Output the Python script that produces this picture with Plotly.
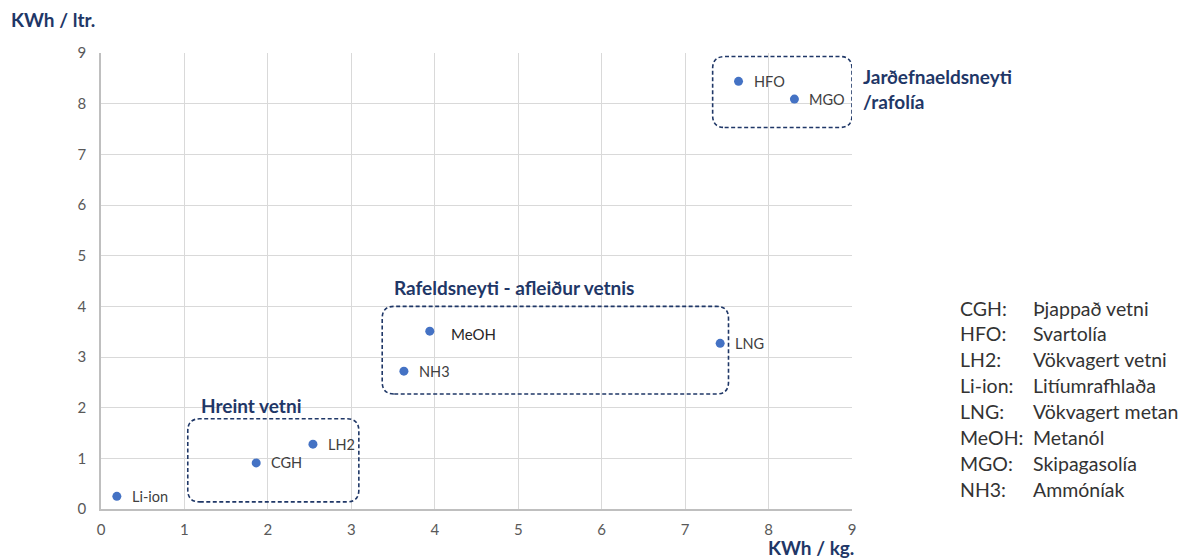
import plotly.graph_objects as go

# Fuel energy density: gravimetric (KWh/kg) vs volumetric (KWh/ltr)
fuels = ["Li-ion", "CGH", "LH2", "NH3", "MeOH", "LNG", "HFO", "MGO"]
kwh_per_kg = [0.19, 1.86, 2.54, 3.63, 3.94, 7.42, 7.64, 8.31]
kwh_per_ltr = [0.25, 0.91, 1.28, 2.72, 3.51, 3.27, 8.44, 8.09]

# Fuel groups: label and enclosing box (x0, x1, y0, y1) in data units
groups = ["Hreint vetni", "Rafeldsneyti - afleiður vetnis", "Jarðefnaeldsneyti<br>/rafolía"]
group_boxes = [(1.04, 3.09, 0.14, 1.78), (3.37, 7.52, 2.27, 4.00), (7.33, 9.00, 7.53, 8.93)]

# Abbreviation glossary
gloss_codes = ["CGH:", "HFO:", "LH2:", "Li-ion:", "LNG:", "MeOH:", "MGO:", "NH3:"]
gloss_names = ["Þjappað vetni", "Svartolía", "Vökvagert vetni", "Litíumrafhlaða",
               "Vökvagert metan", "Metanól", "Skipagasolía", "Ammóníak"]

W, H = 1184, 558
ML, MR, MT, MB = 101, 332, 53, 49
PW, PH = W - ML - MR, H - MT - MB
NAVY = "#1f3767"
FONT = "Lato, Carlito, Calibri, sans-serif"


def px_to_paper(px, py):
    return (px - ML) / PW, (H - MB - py) / PH


def rounded_box(x0, x1, y0, y1, r_px=12):
    rx = r_px * 9 / PW
    ry = r_px * 9 / PH
    return (f"M {x0 + rx},{y0} L {x1 - rx},{y0} Q {x1},{y0} {x1},{y0 + ry} "
            f"L {x1},{y1 - ry} Q {x1},{y1} {x1 - rx},{y1} "
            f"L {x0 + rx},{y1} Q {x0},{y1} {x0},{y1 - ry} "
            f"L {x0},{y0 + ry} Q {x0},{y0} {x0 + rx},{y0} Z")


fig = go.Figure()
fig.add_trace(go.Scatter(
    x=kwh_per_kg, y=kwh_per_ltr, mode="markers",
    marker=dict(color="#4472c4", size=9),
    hoverinfo="text", text=fuels, showlegend=False,
))

annotations = []
for name, xv, yv in zip(fuels, kwh_per_kg, kwh_per_ltr):
    big = name == "MeOH"
    annotations.append(dict(
        x=xv, y=yv, text=name, showarrow=False, xanchor="left",
        xshift=19 if big else 13, yshift=-3 if big else 0,
        font=dict(family=FONT, size=15 if big else 14.5,
                  color="#262626" if big else "#404040"),
    ))

shapes = []
for box in group_boxes:
    shapes.append(dict(type="path", xref="x", yref="y", path=rounded_box(*box),
                       line=dict(color=NAVY, width=1.6, dash="4px,2.5px"),
                       fillcolor="rgba(0,0,0,0)"))

# group titles
title_font = dict(family=FONT, size=19, color=NAVY)
annotations.append(dict(x=1.17, y=2.05, text="<b>" + groups[0] + "</b>", xanchor="left",
                        yanchor="middle", showarrow=False, font=title_font))
annotations.append(dict(x=3.49, y=4.38, text="<b>" + groups[1] + "</b>", xanchor="left",
                        yanchor="middle", showarrow=False, font=title_font))
gx, gy = px_to_paper(861, 89)
annotations.append(dict(x=gx, y=gy, xref="paper", yref="paper",
                        text="<b>" + groups[2].replace("<br>", "</b><br><b>") + "</b>",
                        xanchor="left", yanchor="middle", align="left", showarrow=False,
                        font=title_font))

# axis titles
tx, ty = px_to_paper(9, 19)
annotations.append(dict(x=tx, y=ty, xref="paper", yref="paper", text="<b>KWh / ltr.</b>",
                        xanchor="left", yanchor="middle", showarrow=False,
                        font=dict(family=FONT, size=19, color=NAVY)))
tx, ty = px_to_paper(856, 547)
annotations.append(dict(x=tx, y=ty, xref="paper", yref="paper", text="<b>KWh / kg.</b>",
                        xanchor="right", yanchor="middle", showarrow=False,
                        font=dict(family=FONT, size=19, color=NAVY)))

# glossary
for i, (code, desc) in enumerate(zip(gloss_codes, gloss_names)):
    py = 308 + i * 25.9
    cx, cy = px_to_paper(958, py)
    dx, _ = px_to_paper(1031, py)
    for xx, t in ((cx, code), (dx, desc)):
        annotations.append(dict(x=xx, y=cy, xref="paper", yref="paper", text=t,
                                xanchor="left", yanchor="middle", showarrow=False,
                                font=dict(family=FONT, size=19.5, color="#333333")))

axis_common = dict(
    showgrid=True, gridcolor="#d9d9d9", gridwidth=1,
    zeroline=False, showline=True, linecolor="#bfbfbf", linewidth=1.5,
    ticks="", tickfont=dict(family=FONT, size=15, color="#595959"),
    dtick=1, fixedrange=True,
)
fig.update_layout(
    width=W, height=H,
    margin=dict(l=ML, r=MR, t=MT, b=MB),
    paper_bgcolor="white", plot_bgcolor="white",
    xaxis=dict(range=[0, 9], tick0=0, ticklabelstandoff=6, **axis_common),
    yaxis=dict(range=[0, 9], tick0=0, ticklabelstandoff=10, **axis_common),
    shapes=shapes, annotations=annotations,
    font=dict(family=FONT),
)

fig.write_html("out.html")
